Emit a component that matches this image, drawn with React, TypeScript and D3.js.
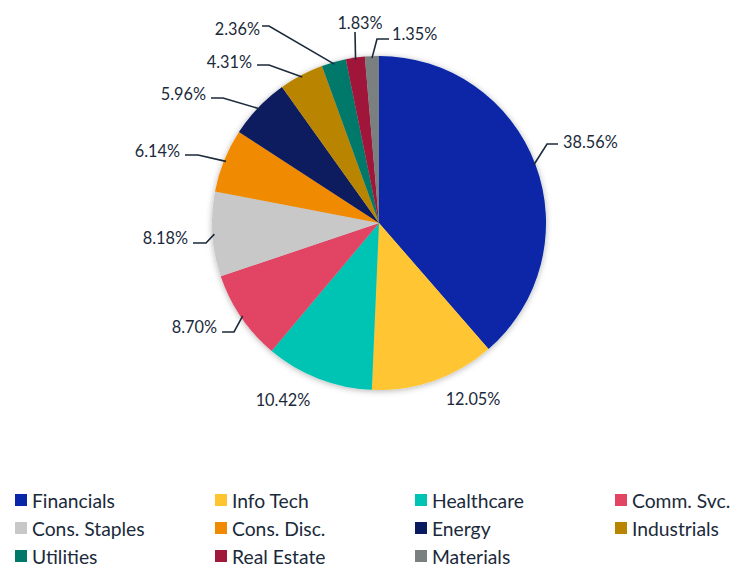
import React from "react";
import * as d3 from "d3";

const categories = ["Financials", "Info Tech", "Healthcare", "Comm. Svc.", "Cons. Staples", "Cons. Disc.", "Energy", "Industrials", "Utilities", "Real Estate", "Materials"];
const values = [38.56, 12.05, 10.42, 8.70, 8.18, 6.14, 5.96, 4.31, 2.36, 1.83, 1.35];
const colors = ["#0726A8", "#FFC530", "#00C4B3", "#E24563", "#C8C8C8", "#F08A00", "#0A1A5E", "#B98500", "#00786A", "#A0183A", "#7A7F80"];

// label layout (relative to pie centre): elbow point, end of horizontal, text pos, anchor
const labelLayout: { elbow?: [number, number]; end?: [number, number]; text: [number, number]; anchor: string }[] = [
  { elbow: [168, -79], end: [179, -79], text: [184, -82], anchor: "start" },
  { text: [94, 175], anchor: "middle" },
  { text: [-96, 176], anchor: "middle" },
  { elbow: [-145, 109], end: [-157, 109], text: [-162, 103], anchor: "end" },
  { elbow: [-173, 20], end: [-186, 20], text: [-191, 14], anchor: "end" },
  { elbow: [-181, -68], end: [-194, -68], text: [-199, -73], anchor: "end" },
  { elbow: [-156, -125], end: [-168, -125], text: [-173, -130], anchor: "end" },
  { elbow: [-110, -158], end: [-122, -158], text: [-127, -162], anchor: "end" },
  { elbow: [-110, -197], end: [-117, -197], text: [-119, -195], anchor: "end" },
  { elbow: [-24, -191], text: [-19, -201], anchor: "middle" },
  { elbow: [-2, -184], end: [10, -184], text: [13, -190], anchor: "start" },
];

const W = 731, H = 565;
const cx = 379, cy = 223, R = 167;
const textColor = "#1B2A3A";
const font = "Lato, 'Open Sans', sans-serif";

export default function App() {
  const pie = d3.pie<number>().sort(null).value((d) => d);
  const arcs = pie(values);
  const arcGen = d3.arc<d3.PieArcDatum<number>>().innerRadius(0).outerRadius(R);
  const edgeArc = d3.arc<d3.PieArcDatum<number>>().innerRadius(R - 2).outerRadius(R - 2);
  const legendX = d3.scaleLinear().domain([0, 1]).range([15, 215]);
  const legendY = d3.scaleLinear().domain([0, 1]).range([500, 528]);

  return (
    <svg width={W} height={H} style={{ position: "absolute", left: 0, top: 0, background: "#fff" }}>
      <defs>
        <filter id="sh" x="-20%" y="-20%" width="140%" height="140%">
          <feDropShadow dx="0" dy="1" stdDeviation="3" floodColor="#000" floodOpacity="0.3" />
        </filter>
      </defs>
      <g transform={`translate(${cx},${cy})`}>
        <g filter="url(#sh)">
          {arcs.map((a, i) => (
            <path key={i} d={arcGen(a) || ""} fill={colors[i]} />
          ))}
        </g>
        {arcs.map((a, i) => {
          const L = labelLayout[i];
          const [sx, sy] = edgeArc.centroid(a);
          const pts: [number, number][] = [];
          if (L.elbow) {
            pts.push([sx, sy], L.elbow);
            if (L.end) pts.push(L.end);
          }
          return (
            <g key={i}>
              {pts.length > 0 && (
                <polyline points={pts.map((p) => p.join(",")).join(" ")} fill="none" stroke={textColor} strokeWidth={1.6} />
              )}
              <text x={L.text[0]} y={L.text[1]} textAnchor={L.anchor} dominantBaseline="central" fontFamily={font} fontSize={16.3} fill={textColor}>
                {values[i].toFixed(2)}%
              </text>
            </g>
          );
        })}
      </g>
      <g>
        {categories.map((c, i) => {
          const col = i % 4, row = Math.floor(i / 4);
          const x = legendX(col), y = legendY(row);
          return (
            <g key={c}>
              <rect x={x} y={y - 6} width={12} height={12} fill={colors[i]} />
              <text x={x + 17} y={y} dominantBaseline="central" fontFamily={font} fontSize={19.3} fill={textColor}>{c}</text>
            </g>
          );
        })}
      </g>
    </svg>
  );
}
